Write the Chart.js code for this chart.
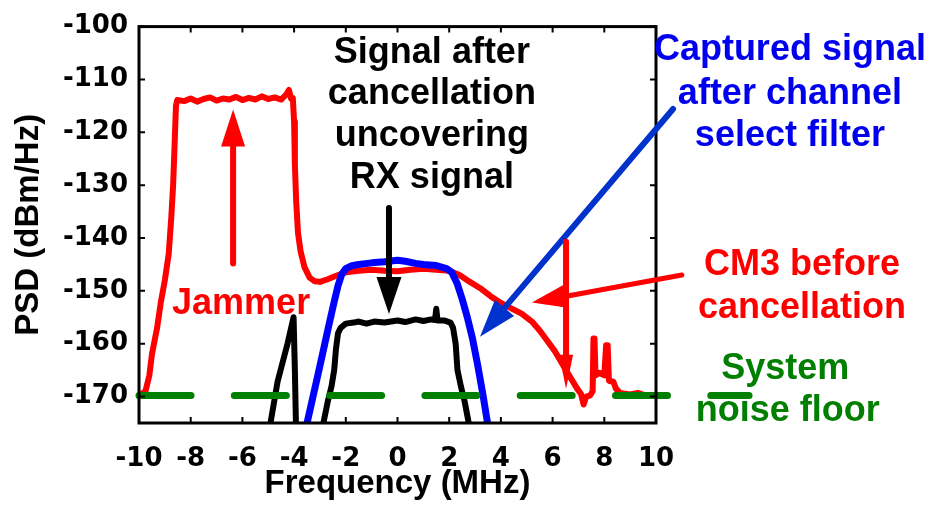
<!DOCTYPE html>
<html>
<head>
<meta charset="utf-8">
<script src="https://cdn.jsdelivr.net/npm/chart.js@4/dist/chart.umd.min.js"></script>
<style>
  html, body { margin: 0; padding: 0; background: #ffffff; }
  #wrap { width: 934px; height: 516px; }
</style>
</head>
<body>
<div id="wrap"><canvas id="c" width="934" height="516"></canvas></div>
<script>
// ---- Data ----
const cm3X = [-10, -9.75, -9.6, -9.5, -9.3, -9.15, -9.0, -8.85, -8.75, -8.68, -8.62, -8.57, -8.52,
  -8.25, -8.0, -7.75, -7.5, -7.25, -7.0, -6.75, -6.5, -6.25, -6.0, -5.75, -5.5, -5.25, -5.0, -4.75, -4.5, -4.3, -4.2, -4.12, -4.05,
  -4.0, -3.97, -3.92, -3.85, -3.75, -3.6, -3.4, -3.2, -3.0, -2.7, -2.4, -2.0, -1.5, -1.0, -0.5, 0, 0.5, 1.0, 1.5, 2.0,
  2.4, 2.8, 3.2, 3.6, 4.0, 4.4, 4.8, 5.2, 5.5, 5.8, 6.1, 6.4, 6.7, 6.95, 7.1, 7.2, 7.3, 7.45, 7.55, 7.58, 7.62, 7.66,
  7.8, 8.0, 8.07, 8.13, 8.18, 8.35, 8.45, 8.6, 9.0, 9.3, 9.6, 10];
const cm3Y = [-169.8, -169.0, -166.0, -162.0, -157.0, -152.0, -148.0, -143.0, -136.0, -130.0, -122.0, -115.0, -113.9,
  -114.1, -113.6, -114.2, -113.7, -113.4, -114.0, -113.6, -113.8, -113.3, -113.9, -113.5, -113.8, -113.2, -113.7, -113.4, -113.8, -112.8, -112.0, -113.6, -113.5,
  -118.0, -126.0, -133.0, -139.0, -142.5, -145.5, -147.5, -148.2, -148.3, -147.8, -147.2, -146.5, -146.2, -146.0, -146.2, -146.3, -146.0, -145.8, -146.0, -146.2,
  -147.0, -148.3, -149.5, -151.0, -152.3, -153.3, -154.3, -155.8, -157.5, -159.5, -161.5, -164.0, -166.5, -168.5, -169.5, -171.5, -170.0, -169.8, -169.0, -159.0, -159.0, -166.0,
  -165.5, -166.0, -160.3, -160.3, -167.0, -167.2, -168.5, -169.3, -169.6, -169.3, -169.8, -169.8];

const filteredX = [-3.6, -3.48, -3.2, -2.97, -2.7, -2.47, -2.3, -2.15, -2.0, -1.8, -1.5, -1.0, -0.5, 0, 0.3, 0.7, 1.0, 1.5, 1.9, 2.1,
  2.3, 2.5, 2.7, 2.9, 3.1, 3.3, 3.45, 3.55];
const filteredY = [-177.0, -174.6, -168.5, -163.5, -157.5, -152.5, -149.0, -146.8, -145.8, -145.3, -145.0, -144.7, -144.5, -144.2, -144.4, -144.8, -145.0, -145.2, -145.8, -146.5,
  -148.5, -151.5, -155.0, -159.0, -164.0, -169.5, -174.0, -177.0];

const cancelledX = [-4.95, -4.9, -4.64, -4.25, -4.02, -3.97, -3.93, -3.9, null,
  -2.95, -2.85, -2.7, -2.55, -2.45, -2.38, -2.3, -2.2, -2.0, -1.7, -1.5, -1.2, -0.9, -0.5, 0, 0.3, 0.7, 1.0, 1.3, 1.45, 1.5, 1.55,
  1.8, 2.05, 2.15, 2.25, 2.32, 2.45, 2.6, 2.74, 2.85];
const cancelledY = [-177.0, -174.6, -167.2, -159.9, -155.0, -165.0, -175.0, -177.0, null,
  -177.0, -174.6, -171.0, -168.0, -165.0, -161.0, -158.0, -157.0, -156.2, -156.0, -155.8, -156.2, -155.8, -156.0, -155.6, -155.9, -155.4, -155.7, -155.4, -155.5, -153.4, -155.6,
  -155.6, -156.0, -157.0, -160.0, -165.0, -168.0, -171.0, -174.6, -177.0];

const noiseFloorX = [-10, 13.6];
const noiseFloorY = [-169.8, -169.8];

const xTickValues = [-10, -8, -6, -4, -2, 0, 2, 4, 6, 8, 10];
const yTickValues = [-170, -160, -150, -140, -130, -120, -110, -100];

const labelSignal = ['Signal after', 'cancellation', 'uncovering', 'RX signal'];
const labelCaptured = ['Captured signal', 'after channel', 'select filter'];
const labelCM3 = ['CM3 before', 'cancellation'];
const labelJammer = ['Jammer'];
const labelNoise = ['System', 'noise floor'];

// ---- helpers ----
function pts(xs, ys) {
  return xs.map((x, i) => (x === null ? {x: NaN, y: NaN} : {x: x, y: ys[i]}));
}

const RED = '#ff0000', BLUE = '#0000ff', BLACK = '#000000', GREEN = '#007f00';
const ANNOT_FONT = 'bold 36px "Liberation Sans", Arial, sans-serif';

function arrow(ctx, x1, y1, x2, y2, color, lw, headLen, headW) {
  const dx = x2 - x1, dy = y2 - y1;
  const len = Math.hypot(dx, dy);
  const ux = dx / len, uy = dy / len;
  const bx = x2 - ux * headLen, by = y2 - uy * headLen;
  ctx.save();
  ctx.strokeStyle = color; ctx.fillStyle = color;
  ctx.lineWidth = lw; ctx.lineCap = 'round';
  ctx.beginPath(); ctx.moveTo(x1, y1); ctx.lineTo(bx + ux * 2, by + uy * 2); ctx.stroke();
  ctx.beginPath();
  ctx.moveTo(x2, y2);
  ctx.lineTo(bx - uy * headW / 2, by + ux * headW / 2);
  ctx.lineTo(bx + uy * headW / 2, by - ux * headW / 2);
  ctx.closePath(); ctx.fill();
  ctx.restore();
}

function textLines(ctx, lines, cx, baselines, color, xs, ys) {
  ctx.save();
  ctx.font = ANNOT_FONT; ctx.fillStyle = color;
  ctx.textAlign = 'center'; ctx.textBaseline = 'alphabetic';
  lines.forEach((t, i) => {
    ctx.fillText(t, xs.getPixelForValue(Array.isArray(cx) ? cx[i] : cx), ys.getPixelForValue(baselines[i]));
  });
  ctx.restore();
}

const framePlugin = {
  id: 'frameAndNotes',
  afterDatasetsDraw(chart) {
    const ctx = chart.ctx;
    const xs = chart.scales.x, ys = chart.scales.y;
    const a = chart.chartArea;
    ctx.save();
    ctx.strokeStyle = '#000'; ctx.lineWidth = 3;
    ctx.strokeRect(a.left, a.top, a.right - a.left, a.bottom - a.top);
    ctx.lineWidth = 2;
    ctx.beginPath();
    xTickValues.forEach(v => {
      const px = xs.getPixelForValue(v);
      ctx.moveTo(px, a.bottom); ctx.lineTo(px, a.bottom - 6);
      ctx.moveTo(px, a.top); ctx.lineTo(px, a.top + 6);
    });
    yTickValues.forEach(v => {
      const py = ys.getPixelForValue(v);
      ctx.moveTo(a.left, py); ctx.lineTo(a.left + 6, py);
      ctx.moveTo(a.right, py); ctx.lineTo(a.right - 6, py);
    });
    ctx.stroke();
    ctx.restore();

    const X = v => xs.getPixelForValue(v), Y = v => ys.getPixelForValue(v);
    arrow(ctx, X(-6.36), Y(-144.8), X(-6.36), Y(-115.7), RED, 6, 37, 24);
    arrow(ctx, X(-0.33), Y(-134.3), X(-0.33), Y(-154.4), BLACK, 6, 37, 25);
    arrow(ctx, X(10.66), Y(-115.6), X(3.19), Y(-158.7), '#0033cc', 6, 38, 25);
    arrow(ctx, X(11.0), Y(-147.0), X(5.2), Y(-152.2), RED, 5, 34, 23);
    arrow(ctx, X(6.52), Y(-140.7), X(6.52), Y(-168.5), RED, 6, 34, 14);

    textLines(ctx, labelSignal, 1.33, [-106.85, -114.6, -122.6, -130.6], BLACK, xs, ys);
    textLines(ctx, labelCaptured, 15.18, [-106.3, -114.6, -122.6], '#0000ee', xs, ys);
    textLines(ctx, labelCM3, 15.65, [-147.0, -155.2], RED, xs, ys);
    textLines(ctx, labelJammer, -6.05, [-154.4], RED, xs, ys);
    textLines(ctx, labelNoise, [15.0, 15.1], [-166.7, -174.6], GREEN, xs, ys);
  }
};

const tickFont = { family: '"DejaVu Sans", sans-serif', size: 26, weight: 'bold' };
const titleFont = { family: '"Liberation Sans", Arial, sans-serif', size: 33, weight: 'bold' };

new Chart(document.getElementById('c'), {
  type: 'scatter',
  data: {
    datasets: [
      { label: 'System noise floor', data: pts(noiseFloorX, noiseFloorY), showLine: true,
        borderColor: GREEN, borderWidth: 7, borderDash: [52, 43.3], borderCapStyle: 'round',
        pointRadius: 0, clip: false, order: 0 },
      { label: 'Signal after cancellation', data: pts(cancelledX, cancelledY), showLine: true, spanGaps: false,
        borderColor: BLACK, borderWidth: 6, pointRadius: 0, clip: 0, order: 1, borderJoinStyle: 'round' },
      { label: 'Captured signal after channel select filter', data: pts(filteredX, filteredY), showLine: true,
        borderColor: BLUE, borderWidth: 7, pointRadius: 0, clip: 0, order: 2, borderJoinStyle: 'round' },
      { label: 'CM3 before cancellation', data: pts(cm3X, cm3Y), showLine: true,
        borderColor: RED, borderWidth: 6, pointRadius: 0, clip: 0, order: 3, borderJoinStyle: 'round' }
    ]
  },
  options: {
    responsive: false,
    animation: false,
    layout: { padding: { left: 0, top: 18, right: 278, bottom: 0 } },
    plugins: { legend: { display: false }, tooltip: { enabled: false } },
    scales: {
      x: {
        type: 'linear', min: -10, max: 10,
        grid: { display: false, drawTicks: false },
        border: { display: false },
        ticks: { color: '#000', font: tickFont, padding: 21, maxRotation: 0, autoSkip: false },
        afterBuildTicks(s) { s.ticks = xTickValues.map(v => ({ value: v })); },
        title: { display: true, text: 'Frequency (MHz)', color: '#000', font: titleFont, padding: { top: 0, bottom: 12 } },
        afterFit(s) { s.height = 93; }
      },
      y: {
        type: 'linear', min: -175, max: -100,
        grid: { display: false, drawTicks: false },
        border: { display: false },
        ticks: { color: '#000', font: tickFont, padding: 11, autoSkip: false },
        afterBuildTicks(s) { s.ticks = yTickValues.map(v => ({ value: v })); },
        title: { display: true, text: 'PSD (dBm/Hz)', color: '#000', font: titleFont, padding: { top: 9, bottom: 0 } },
        afterFit(s) { s.width = 139; }
      }
    }
  },
  plugins: [framePlugin]
});
</script>
</body>
</html>
